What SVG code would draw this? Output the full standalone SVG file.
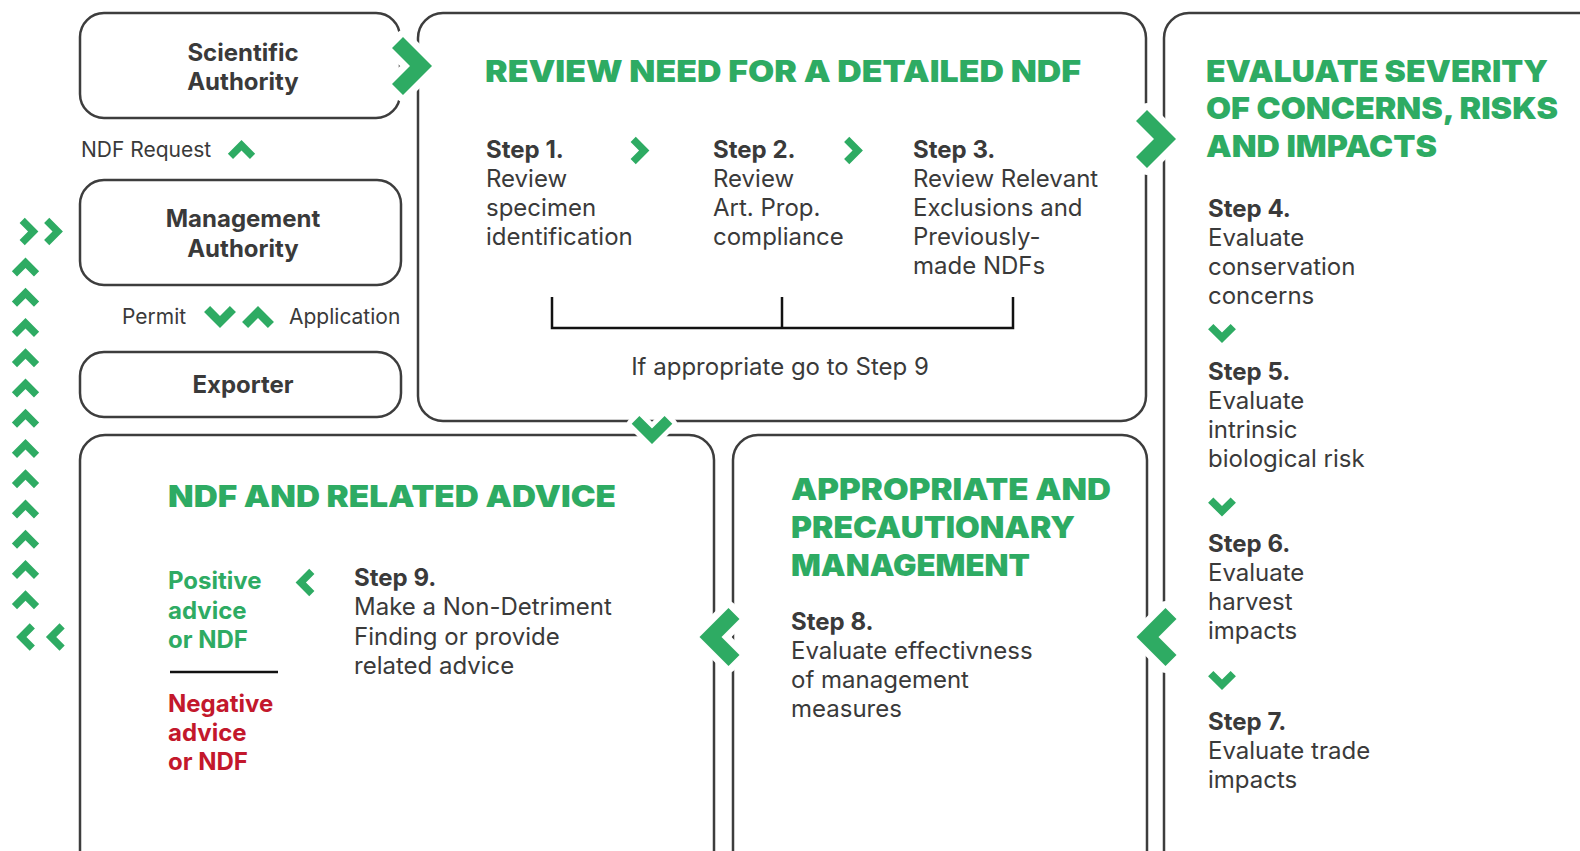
<svg xmlns="http://www.w3.org/2000/svg" xmlns:xlink="http://www.w3.org/1999/xlink" width="1580" height="851" viewBox="0 0 1580 851">
<style>
.box{fill:none;stroke:#3d3d3d;stroke-width:2.5}
.t{font-family:Inter,"Noto Sans","Liberation Sans",sans-serif;font-size:24px;fill:#3a3a3a}
.b{font-weight:700}
.n{font-family:Inter,"Noto Sans","Liberation Sans",sans-serif;font-size:21px;fill:#3a3a3a}
.h{font-family:Inter,"Noto Sans","Liberation Sans",sans-serif;font-weight:900;font-size:30px;fill:#2eab63}
.pos{font-family:Inter,"Noto Sans","Liberation Sans",sans-serif;font-size:24px;font-weight:700;fill:#2eab63}
.neg{font-family:Inter,"Noto Sans","Liberation Sans",sans-serif;font-size:24px;font-weight:700;fill:#c3182c}
.g{fill:#2eab63}
.gw{fill:#2eab63;stroke:#ffffff;stroke-width:14;paint-order:stroke;stroke-linejoin:round}
.br{fill:none;stroke:#111;stroke-width:2.5}
</style>
<defs>
<path id="chev" d="M-20,-18 L-9,-29 L20,0 L-9,29 L-20,18 L-2,0 Z"/>
</defs>

<g id="scientific-authority">
<rect class="box" x="80" y="13" width="320" height="105" rx="24"/>
<text class="t b" text-anchor="middle"><tspan x="243" y="61">Scientific</tspan><tspan x="243" y="90">Authority</tspan></text>
</g>
<g id="management-authority">
<rect class="box" x="80" y="180" width="321" height="105" rx="24"/>
<text class="t b" text-anchor="middle"><tspan x="243" y="227">Management</tspan><tspan x="243" y="257">Authority</tspan></text>
</g>
<g id="exporter">
<rect class="box" x="80" y="352" width="321" height="65" rx="24"/>
<text class="t b" x="243" y="393" text-anchor="middle">Exporter</text>
</g>

<g id="review-panel">
<rect class="box" x="418" y="13" width="728" height="408" rx="25"/>
<text class="h" x="485" y="82" textLength="596" lengthAdjust="spacingAndGlyphs">REVIEW NEED FOR A DETAILED NDF</text>
<text class="t"><tspan class="b" x="486" y="158">Step 1.</tspan><tspan x="486" y="187">Review</tspan><tspan x="486" y="216">specimen</tspan><tspan x="486" y="245">identification</tspan></text>
<text class="t"><tspan class="b" x="713" y="158">Step 2.</tspan><tspan x="713" y="187">Review</tspan><tspan x="713" y="216">Art. Prop.</tspan><tspan x="713" y="245">compliance</tspan></text>
<text class="t"><tspan class="b" x="913" y="158">Step 3.</tspan><tspan x="913" y="187">Review Relevant</tspan><tspan x="913" y="216">Exclusions and</tspan><tspan x="913" y="245">Previously-</tspan><tspan x="913" y="274">made NDFs</tspan></text>
<text class="t" x="780" y="375" text-anchor="middle">If appropriate go to Step 9</text>
</g>

<g id="evaluate-panel">
<rect class="box" x="1164" y="13" width="500" height="900" rx="25"/>
<text class="h"><tspan x="1206" y="82" textLength="342" lengthAdjust="spacingAndGlyphs">EVALUATE SEVERITY</tspan></text>
<text class="h"><tspan x="1206" y="119" textLength="352" lengthAdjust="spacingAndGlyphs">OF CONCERNS, RISKS</tspan></text>
<text class="h"><tspan x="1206" y="157" textLength="231" lengthAdjust="spacingAndGlyphs">AND IMPACTS</tspan></text>
<text class="t"><tspan class="b" x="1208" y="217">Step 4.</tspan><tspan x="1208" y="246">Evaluate</tspan><tspan x="1208" y="275">conservation</tspan><tspan x="1208" y="304">concerns</tspan></text>
<text class="t"><tspan class="b" x="1208" y="380">Step 5.</tspan><tspan x="1208" y="409">Evaluate</tspan><tspan x="1208" y="438">intrinsic</tspan><tspan x="1208" y="467">biological risk</tspan></text>
<text class="t"><tspan class="b" x="1208" y="552">Step 6.</tspan><tspan x="1208" y="581">Evaluate</tspan><tspan x="1208" y="610">harvest</tspan><tspan x="1208" y="639">impacts</tspan></text>
<text class="t"><tspan class="b" x="1208" y="730">Step 7.</tspan><tspan x="1208" y="759">Evaluate trade</tspan><tspan x="1208" y="788">impacts</tspan></text>
</g>

<g id="management-panel">
<rect class="box" x="733" y="435" width="414" height="500" rx="25"/>
<text class="h"><tspan x="791" y="500" textLength="320" lengthAdjust="spacingAndGlyphs">APPROPRIATE AND</tspan></text>
<text class="h"><tspan x="791" y="538" textLength="284" lengthAdjust="spacingAndGlyphs">PRECAUTIONARY</tspan></text>
<text class="h"><tspan x="791" y="576" textLength="239" lengthAdjust="spacingAndGlyphs">MANAGEMENT</tspan></text>
<text class="t"><tspan class="b" x="791" y="630">Step 8.</tspan><tspan x="791" y="659">Evaluate effectivness</tspan><tspan x="791" y="688">of management</tspan><tspan x="791" y="717">measures</tspan></text>
</g>

<g id="ndf-panel">
<rect class="box" x="80" y="435" width="634" height="500" rx="25"/>
<text class="h" x="168" y="507" textLength="448" lengthAdjust="spacingAndGlyphs">NDF AND RELATED ADVICE</text>
<text class="pos"><tspan x="168" y="589">Positive</tspan><tspan x="168" y="619">advice</tspan><tspan x="168" y="648">or NDF</tspan></text>
<line x1="170" y1="672" x2="278" y2="672" stroke="#111" stroke-width="2.5"/>
<text class="neg"><tspan x="168" y="712">Negative</tspan><tspan x="168" y="741">advice</tspan><tspan x="168" y="770">or NDF</tspan></text>
<text class="t"><tspan class="b" x="354" y="586">Step 9.</tspan><tspan x="354" y="615">Make a Non-Detriment</tspan><tspan x="354" y="645">Finding or provide</tspan><tspan x="354" y="674">related advice</tspan></text>
</g>

<g id="connectors">
<text class="n" x="81" y="157">NDF Request</text>
<text class="n" x="122" y="324">Permit</text>
<text class="n" x="289" y="324">Application</text>
<path class="br" d="M552,297 V328 H1013 V297 M782,297 V328"/>
<use href="#chev" class="gw" transform="translate(412,66)"/>
<use href="#chev" class="gw" transform="translate(1156,139)"/>
<use href="#chev" class="gw" transform="translate(1156.5,637) rotate(180)"/>
<use href="#chev" class="gw" transform="translate(719.5,637) rotate(180)"/>
<use href="#chev" class="gw" transform="translate(652,430) rotate(90) scale(0.7)"/>
<use href="#chev" class="g" transform="translate(640,150.5) scale(0.47)"/>
<use href="#chev" class="g" transform="translate(853.5,150.5) scale(0.47)"/>
<use href="#chev" class="g" transform="translate(1222,333.5) rotate(90) scale(0.48)"/>
<use href="#chev" class="g" transform="translate(1222,507) rotate(90) scale(0.48)"/>
<use href="#chev" class="g" transform="translate(1222,680.5) rotate(90) scale(0.48)"/>
<use href="#chev" class="g" transform="translate(241.5,149.5) rotate(-90) scale(0.47)"/>
<use href="#chev" class="g" transform="translate(220,317) rotate(90) scale(0.55)"/>
<use href="#chev" class="g" transform="translate(258,317) rotate(-90) scale(0.55)"/>
<use href="#chev" class="g" transform="translate(305,582.5) rotate(180) scale(0.47)"/>
<use href="#chev" class="g" transform="translate(29,231.5) scale(0.47)"/>
<use href="#chev" class="g" transform="translate(53.5,231.5) scale(0.47)"/>
<use href="#chev" class="g" transform="translate(25.5,267) rotate(-90) scale(0.47)"/>
<use href="#chev" class="g" transform="translate(25.5,297.25) rotate(-90) scale(0.47)"/>
<use href="#chev" class="g" transform="translate(25.5,327.5) rotate(-90) scale(0.47)"/>
<use href="#chev" class="g" transform="translate(25.5,357.75) rotate(-90) scale(0.47)"/>
<use href="#chev" class="g" transform="translate(25.5,388) rotate(-90) scale(0.47)"/>
<use href="#chev" class="g" transform="translate(25.5,418.25) rotate(-90) scale(0.47)"/>
<use href="#chev" class="g" transform="translate(25.5,448.5) rotate(-90) scale(0.47)"/>
<use href="#chev" class="g" transform="translate(25.5,478.75) rotate(-90) scale(0.47)"/>
<use href="#chev" class="g" transform="translate(25.5,509) rotate(-90) scale(0.47)"/>
<use href="#chev" class="g" transform="translate(25.5,539.25) rotate(-90) scale(0.47)"/>
<use href="#chev" class="g" transform="translate(25.5,569.5) rotate(-90) scale(0.47)"/>
<use href="#chev" class="g" transform="translate(25.5,599.75) rotate(-90) scale(0.47)"/>
<use href="#chev" class="g" transform="translate(25.5,637) rotate(180) scale(0.47)"/>
<use href="#chev" class="g" transform="translate(55.3,637) rotate(180) scale(0.47)"/>
</g>
</svg>
